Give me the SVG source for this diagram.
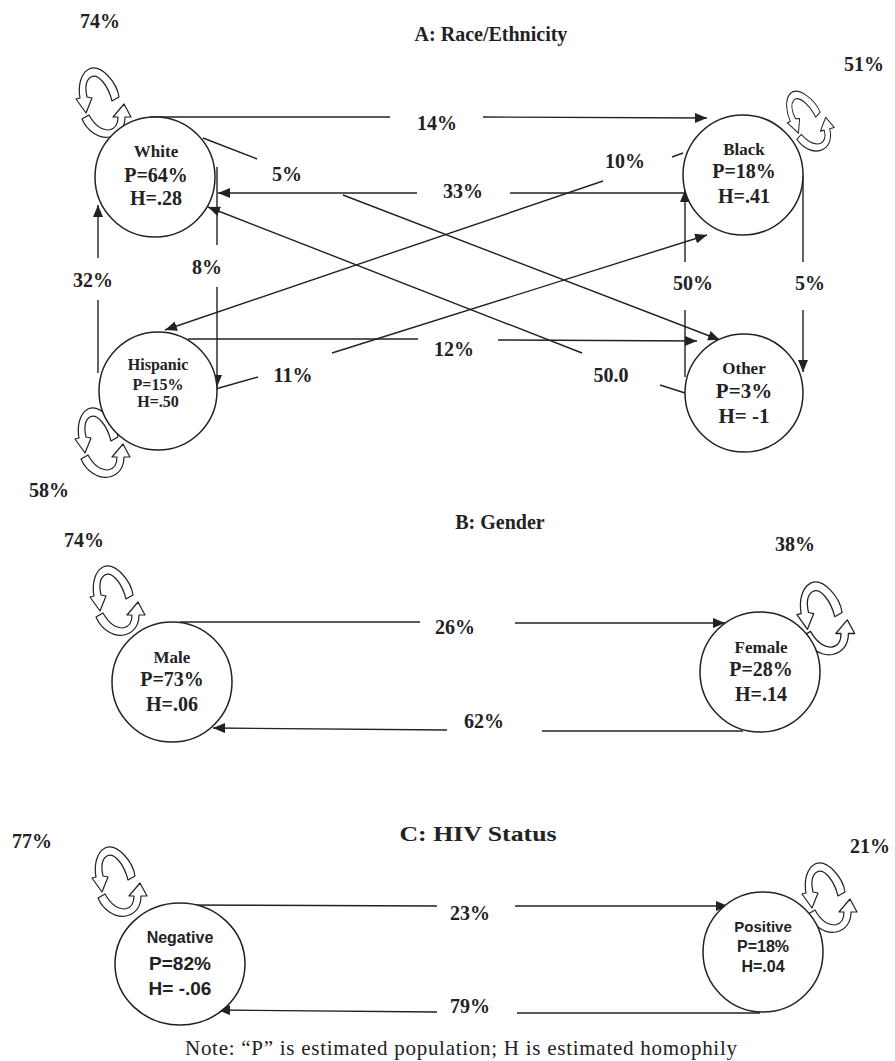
<svg xmlns="http://www.w3.org/2000/svg" width="895" height="1061" viewBox="0 0 895 1061">
<style>
.bg{fill:#fff}
.node{fill:#fff;stroke:#222;stroke-width:1.5}
.ln{fill:none;stroke:#222;stroke-width:1.4}
.arr{fill:none;stroke:#222;stroke-width:1.4;marker-end:url(#ah)}
.loop{fill:#fff;stroke:#222;stroke-width:1.2;stroke-linejoin:round}
.t{font-family:"Liberation Serif","Times New Roman",serif;font-weight:bold;fill:#222;text-anchor:middle}
.s{font-family:"Liberation Sans",Arial,sans-serif;font-weight:bold;fill:#222;text-anchor:middle}
.pct{font-size:20px}
.nm{font-size:17px}
.nv{font-size:20px}
.note{font-family:"Liberation Serif","Times New Roman",serif;font-size:21px;fill:#222;text-anchor:middle}
</style>
<defs>
<marker id="ah" viewBox="0 0 12 10" refX="12" refY="5" markerWidth="12" markerHeight="10" orient="auto" markerUnits="userSpaceOnUse">
<path d="M0,0 L12,5 L0,10 z" fill="#222"/>
</marker>
<g id="loop">
<path class="loop" d="M42,30 C40,16 24,-4 12,2 C3,7 1,20 3,31 L-1,32 L9,46 L15,31 L10,30 C8,21 9,13 14,10 C21,6 31,18 35,34 Z"/>
<path class="loop" d="M5,52 C10,64 22,72 33,70 C43,68 48,60 48,50 L54,50 L47,37 L36,50 L41,50 C41,57 38,62 32,63 C24,63 17,57 12,48 Z"/>
</g>
</defs>
<rect class="bg" x="0" y="0" width="895" height="1061"/>

<!-- titles -->
<text class="t" style="font-size:20px" x="491" y="41">A: Race/Ethnicity</text>
<text class="t" style="font-size:20px" x="500" y="529">B: Gender</text>
<text class="t" style="font-size:22px" x="478" y="841" textLength="157" lengthAdjust="spacingAndGlyphs">C: HIV Status</text>
<text class="note" x="461" y="1055" textLength="552" lengthAdjust="spacing">Note:  “P” is estimated population; H is estimated homophily</text>

<g id="connectors">
<!-- A: Race/Ethnicity -->
<line class="ln" x1="150" y1="117" x2="390" y2="117"/>
<line class="arr" x1="483" y1="117" x2="707" y2="118"/>
<text class="t pct" x="437" y="130">14%</text>

<line class="ln" x1="684" y1="193" x2="510" y2="193"/>
<line class="arr" x1="417" y1="193" x2="218" y2="193"/>
<text class="t pct" x="463" y="198">33%</text>

<line class="ln" x1="203" y1="138" x2="257" y2="159"/>
<line class="arr" x1="343" y1="195" x2="720" y2="340"/>
<text class="t pct" x="287" y="181">5%</text>

<line class="ln" x1="685" y1="393" x2="660" y2="385"/>
<line class="arr" x1="582" y1="353" x2="208" y2="207"/>
<text class="t pct" x="611" y="382">50.0</text>

<line class="ln" x1="683" y1="153" x2="672" y2="157"/>
<line class="arr" x1="603" y1="181" x2="165" y2="330"/>
<text class="t pct" x="625" y="168">10%</text>

<line class="ln" x1="205" y1="392" x2="258" y2="377"/>
<line class="arr" x1="332" y1="353" x2="707" y2="235"/>
<text class="t pct" x="293" y="382">11%</text>

<line class="ln" x1="188" y1="339" x2="418" y2="339"/>
<line class="arr" x1="498" y1="340" x2="697" y2="341"/>
<text class="t pct" x="454" y="356">12%</text>

<line class="ln" x1="98" y1="373" x2="98" y2="300"/>
<line class="arr" x1="98" y1="258" x2="98" y2="205"/>
<text class="t pct" x="93" y="287">32%</text>

<line class="ln" x1="217" y1="167" x2="217" y2="245"/>
<line class="arr" x1="217" y1="287" x2="217" y2="387"/>
<text class="t pct" x="207" y="274">8%</text>

<line class="ln" x1="685" y1="377" x2="685" y2="310"/>
<line class="arr" x1="685" y1="262" x2="685" y2="190"/>
<text class="t pct" x="693" y="290">50%</text>

<line class="ln" x1="803" y1="175" x2="803" y2="262"/>
<line class="arr" x1="803" y1="310" x2="803" y2="372"/>
<text class="t pct" x="810" y="290">5%</text>

<!-- self loops A -->
<use href="#loop" transform="translate(77,67)"/>
<text class="t pct" x="100" y="28">74%</text>
<use href="#loop" transform="translate(789,86) rotate(-15,27,36) scale(0.8,0.92)"/>
<text class="t pct" x="864" y="71">51%</text>
<use href="#loop" transform="translate(76,407)"/>
<text class="t pct" x="49" y="497">58%</text>

<!-- B: Gender -->
<line class="ln" x1="180" y1="622" x2="420" y2="622"/>
<line class="arr" x1="515" y1="623" x2="725" y2="623"/>
<text class="t pct" x="455" y="634">26%</text>
<line class="ln" x1="743" y1="731" x2="542" y2="731"/>
<line class="arr" x1="447" y1="730" x2="213" y2="728"/>
<text class="t pct" x="484" y="728">62%</text>
<use href="#loop" transform="translate(91,565)"/>
<text class="t pct" x="84" y="547">74%</text>
<use href="#loop" transform="translate(798,581) scale(1.05,1.05)"/>
<text class="t pct" x="795" y="551">38%</text>

<!-- C: HIV Status -->
<line class="ln" x1="175" y1="905" x2="437" y2="906"/>
<line class="arr" x1="515" y1="906" x2="728" y2="906"/>
<text class="t pct" x="470" y="920">23%</text>
<line class="ln" x1="760" y1="1013" x2="517" y2="1013"/>
<line class="arr" x1="437" y1="1012" x2="218" y2="1010"/>
<text class="t pct" x="470" y="1013">79%</text>
<use href="#loop" transform="translate(93,846)"/>
<text class="t pct" x="32" y="848">77%</text>
<use href="#loop" transform="translate(803,862)"/>
<text class="t pct" x="870" y="853">21%</text>
</g>

<g id="node-white">
<circle class="node" cx="155" cy="177" r="60"/>
<text class="t nm" x="156" y="157">White</text>
<text class="t nv" x="156" y="182">P=64%</text>
<text class="t nv" x="156" y="205">H=.28</text>
</g>
<g id="node-black">
<circle class="node" cx="743" cy="175" r="60"/>
<text class="t nm" x="744" y="155">Black</text>
<text class="t nv" x="744" y="178">P=18%</text>
<text class="t nv" x="744" y="203">H=.41</text>
</g>
<g id="node-hispanic">
<circle class="node" cx="158" cy="391" r="59"/>
<text class="t" style="font-size:16px" x="158" y="370">Hispanic</text>
<text class="t" style="font-size:16px" x="158" y="390">P=15%</text>
<text class="t" style="font-size:16px" x="158" y="407">H=.50</text>
</g>
<g id="node-other">
<circle class="node" cx="744" cy="393" r="59"/>
<text class="t nm" x="744" y="374">Other</text>
<text class="t" style="font-size:21px" x="744" y="398">P=3%</text>
<text class="t" style="font-size:21px" x="744" y="423">H= -1</text>
</g>
<g id="node-male">
<circle class="node" cx="172" cy="682" r="60"/>
<text class="t nm" x="172" y="663">Male</text>
<text class="t nv" x="172" y="686">P=73%</text>
<text class="t nv" x="172" y="711">H=.06</text>
</g>
<g id="node-female">
<circle class="node" cx="760" cy="672" r="60"/>
<text class="t nm" x="761" y="653">Female</text>
<text class="t nv" x="761" y="676">P=28%</text>
<text class="t nv" x="761" y="701">H=.14</text>
</g>
<g id="node-negative">
<ellipse class="node" cx="180" cy="964" rx="65" ry="61"/>
<text class="s" style="font-size:16px" x="180" y="943">Negative</text>
<text class="s" style="font-size:19px" x="180" y="970">P=82%</text>
<text class="s" style="font-size:19px" x="180" y="995">H= -.06</text>
</g>
<g id="node-positive">
<circle class="node" cx="763" cy="952" r="60"/>
<text class="s" style="font-size:15px" x="763" y="932">Positive</text>
<text class="s" style="font-size:16px" x="763" y="952">P=18%</text>
<text class="s" style="font-size:16px" x="763" y="972">H=.04</text>
</g>
</svg>
